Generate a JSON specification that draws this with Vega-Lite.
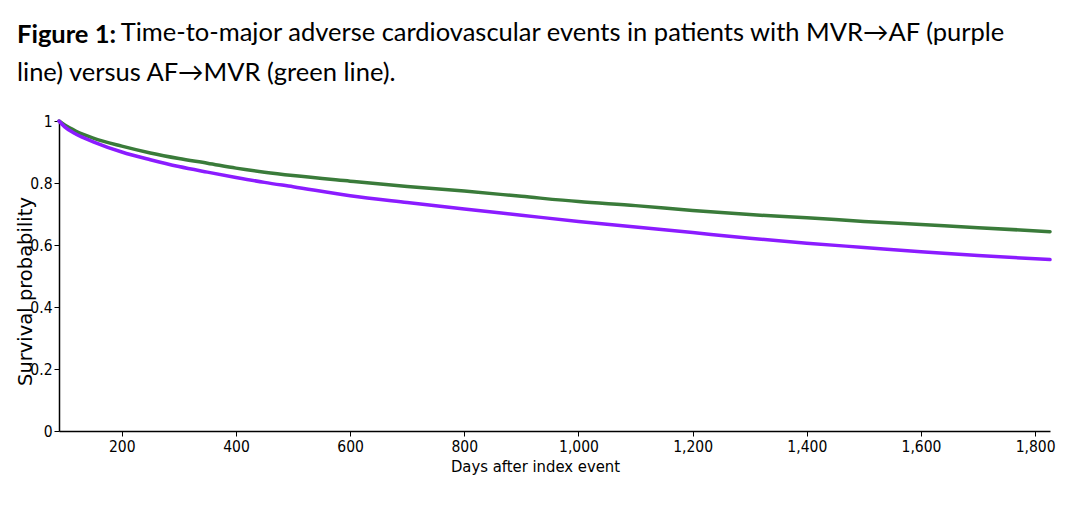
{
  "$schema": "https://vega.github.io/schema/vega-lite/v6.json",
  "autosize": {"type": "none"},
  "width": 991,
  "height": 310,
  "padding": {"left": 59, "top": 121, "right": 28, "bottom": 75},
  "background": "white",
  "title": {
    "text": "Figure 1:",
    "subtitle": ["\u200b\u00a0\u00a0\u00a0\u00a0\u00a0\u00a0\u00a0\u00a0\u00a0\u00a0\u00a0\u00a0\u00a0\u00a0\u00a0\u00a0Time-to-major adverse cardiovascular events in patients with MVR\u2192AF (purple", "line) versus AF\u2192MVR (green line)."],
    "anchor": "start",
    "frame": "group",
    "dx": -42,
    "dy": -26,
    "font": "Lato",
    "fontSize": 25.5,
    "fontWeight": "bold",
    "color": "black",
    "subtitleFont": "Lato",
    "subtitleFontSize": 25.5,
    "subtitleColor": "black",
    "subtitleFontWeight": "normal",
    "subtitlePadding": -27.5,
    "subtitleLineHeight": 40,
    "offset": 0
  },
  "data": {
    "values": [
      {"day": 90, "s": 1.0, "group": "AF\u2192MVR"},
      {"day": 100, "s": 0.987, "group": "AF\u2192MVR"},
      {"day": 120, "s": 0.967, "group": "AF\u2192MVR"},
      {"day": 150, "s": 0.945, "group": "AF\u2192MVR"},
      {"day": 200, "s": 0.919, "group": "AF\u2192MVR"},
      {"day": 250, "s": 0.897, "group": "AF\u2192MVR"},
      {"day": 300, "s": 0.879, "group": "AF\u2192MVR"},
      {"day": 350, "s": 0.864, "group": "AF\u2192MVR"},
      {"day": 400, "s": 0.848, "group": "AF\u2192MVR"},
      {"day": 450, "s": 0.835, "group": "AF\u2192MVR"},
      {"day": 500, "s": 0.824, "group": "AF\u2192MVR"},
      {"day": 600, "s": 0.806, "group": "AF\u2192MVR"},
      {"day": 700, "s": 0.789, "group": "AF\u2192MVR"},
      {"day": 800, "s": 0.774, "group": "AF\u2192MVR"},
      {"day": 900, "s": 0.757, "group": "AF\u2192MVR"},
      {"day": 1000, "s": 0.740, "group": "AF\u2192MVR"},
      {"day": 1100, "s": 0.727, "group": "AF\u2192MVR"},
      {"day": 1200, "s": 0.711, "group": "AF\u2192MVR"},
      {"day": 1300, "s": 0.698, "group": "AF\u2192MVR"},
      {"day": 1400, "s": 0.688, "group": "AF\u2192MVR"},
      {"day": 1500, "s": 0.676, "group": "AF\u2192MVR"},
      {"day": 1600, "s": 0.666, "group": "AF\u2192MVR"},
      {"day": 1700, "s": 0.656, "group": "AF\u2192MVR"},
      {"day": 1826, "s": 0.643, "group": "AF\u2192MVR"},
      {"day": 90, "s": 1.0, "group": "MVR\u2192AF"},
      {"day": 100, "s": 0.981, "group": "MVR\u2192AF"},
      {"day": 120, "s": 0.957, "group": "MVR\u2192AF"},
      {"day": 150, "s": 0.933, "group": "MVR\u2192AF"},
      {"day": 200, "s": 0.900, "group": "MVR\u2192AF"},
      {"day": 250, "s": 0.875, "group": "MVR\u2192AF"},
      {"day": 300, "s": 0.853, "group": "MVR\u2192AF"},
      {"day": 350, "s": 0.835, "group": "MVR\u2192AF"},
      {"day": 400, "s": 0.818, "group": "MVR\u2192AF"},
      {"day": 450, "s": 0.802, "group": "MVR\u2192AF"},
      {"day": 500, "s": 0.788, "group": "MVR\u2192AF"},
      {"day": 600, "s": 0.759, "group": "MVR\u2192AF"},
      {"day": 700, "s": 0.737, "group": "MVR\u2192AF"},
      {"day": 800, "s": 0.716, "group": "MVR\u2192AF"},
      {"day": 900, "s": 0.696, "group": "MVR\u2192AF"},
      {"day": 1000, "s": 0.676, "group": "MVR\u2192AF"},
      {"day": 1100, "s": 0.658, "group": "MVR\u2192AF"},
      {"day": 1200, "s": 0.640, "group": "MVR\u2192AF"},
      {"day": 1300, "s": 0.622, "group": "MVR\u2192AF"},
      {"day": 1400, "s": 0.606, "group": "MVR\u2192AF"},
      {"day": 1500, "s": 0.592, "group": "MVR\u2192AF"},
      {"day": 1600, "s": 0.578, "group": "MVR\u2192AF"},
      {"day": 1700, "s": 0.566, "group": "MVR\u2192AF"},
      {"day": 1826, "s": 0.553, "group": "MVR\u2192AF"}
    ]
  },
  "mark": {"type": "line", "strokeWidth": 3.5, "interpolate": "monotone", "strokeCap": "round"},
  "encoding": {
    "x": {
      "field": "day",
      "type": "quantitative",
      "scale": {"domain": [90, 1826], "nice": false, "zero": false},
      "axis": {
        "title": "Days after index event",
        "values": [200, 400, 600, 800, 1000, 1200, 1400, 1600, 1800],
        "format": ",.0f",
        "grid": false,
        "domainColor": "black",
        "domainWidth": 1.5,
        "tickColor": "black",
        "tickSize": 5,
        "labelFont": "DejaVu Sans Condensed",
        "labelFontSize": 15.5,
        "labelColor": "black",
        "labelPadding": 3,
        "titleFont": "DejaVu Sans Condensed",
        "titleFontSize": 16.5,
        "titleFontWeight": "normal",
        "titleColor": "black",
        "titleX": 476,
        "titlePadding": 4
      }
    },
    "y": {
      "field": "s",
      "type": "quantitative",
      "scale": {"domain": [0, 1], "nice": false},
      "axis": {
        "title": "Survival probability",
        "values": [0, 0.2, 0.4, 0.6, 0.8, 1],
        "format": "~g",
        "grid": false,
        "domainColor": "black",
        "domainWidth": 1.5,
        "tickColor": "black",
        "tickSize": 5,
        "labelFont": "DejaVu Sans Condensed",
        "labelFontSize": 15.5,
        "labelColor": "black",
        "labelPadding": 2,
        "titleFont": "DejaVu Sans",
        "titleFontSize": 19.5,
        "titleFontWeight": "normal",
        "titleColor": "black",
        "titleY": 170,
        "titleX": -34,
        "titleBaseline": "middle"
      }
    },
    "color": {
      "field": "group",
      "type": "nominal",
      "scale": {"domain": ["MVR\u2192AF", "AF\u2192MVR"], "range": ["#8b1cff", "#3a7b3a"]},
      "legend": null
    }
  },
  "config": {"view": {"stroke": null}}
}
